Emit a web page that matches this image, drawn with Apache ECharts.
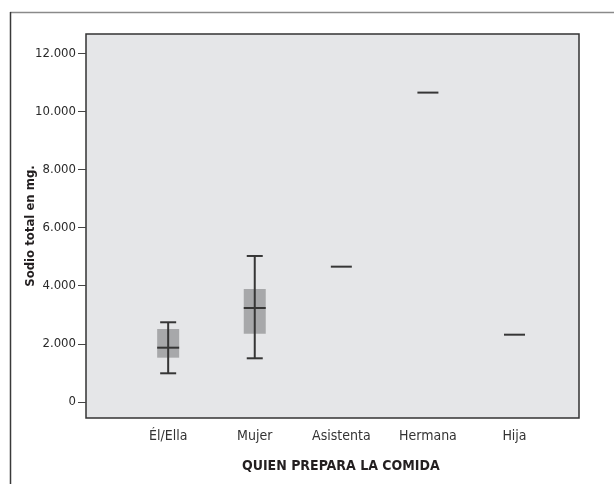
<!DOCTYPE html>
<html><head><meta charset="utf-8">
<script src="https://cdn.jsdelivr.net/npm/echarts@6/dist/echarts.min.js"></script>
<style>html,body{margin:0;padding:0;background:#fff}#c{width:614px;height:484px}</style>
</head><body><div id="c"></div>
<script>
const categories = ['Él/Ella', 'Mujer', 'Asistenta', 'Hermana', 'Hija'];
const whiskerLow = [988, 1504, null, null, null];
const q1 = [1525, 2350, null, null, null];
const median = [1869, 3235, 4656, 10644, 2316];
const q3 = [2512, 3889, null, null, null];
const whiskerHigh = [2743, 5024, null, null, null];
const yTicks = [0, 2000, 4000, 6000, 8000, 10000, 12000];

const FONT = '"DejaVu Sans Condensed", "DejaVu Sans", sans-serif';
const LINE = '#363636';
const fmt = v => String(v).replace(/\B(?=(\d{3})+(?!\d))/g, '.');

const data = categories.map((c, i) => [i, whiskerLow[i], q1[i], median[i], q3[i], whiskerHigh[i]]);

const chart = echarts.init(document.getElementById('c'), null, {renderer: 'canvas'});
chart.setOption({
  animation: false,
  backgroundColor: '#fff',
  textStyle: {fontFamily: FONT},
  title: {
    text: 'QUIEN PREPARA LA COMIDA',
    left: 242, top: 459, padding: 0,
    textStyle: {fontFamily: FONT, fontWeight: 'bold', fontSize: 14, color: '#231f20'}
  },
  graphic: [
    {type: 'line', shape: {x1: 10, y1: 12.5, x2: 614, y2: 12.5}, style: {stroke: '#8a8a8a', lineWidth: 1.5}},
    {type: 'line', shape: {x1: 10.5, y1: 12, x2: 10.5, y2: 484}, style: {stroke: '#3a3a3a', lineWidth: 1.5}}
  ],
  grid: {
    left: 86, right: 35, top: 34, bottom: 66,
    show: true, backgroundColor: '#e5e6e8', borderColor: '#333', borderWidth: 1.5
  },
  xAxis: {
    type: 'value', min: -0.949, max: 4.745,
    splitLine: {show: false}, axisLine: {show: false, onZero: false}, axisTick: {show: false},
    axisLabel: {
      customValues: [0, 1, 2, 3, 4],
      formatter: v => categories[Math.round(v)],
      fontFamily: FONT, fontSize: 14, color: '#333', margin: 11
    }
  },
  yAxis: {
    type: 'value', min: -550, max: 12660,
    name: 'Sodio total en mg.', nameLocation: 'middle', nameGap: 49, nameMoveOverlap: false,
    nameTextStyle: {fontFamily: FONT, fontWeight: 'bold', fontSize: 13, color: '#231f20'},
    splitLine: {show: false},
    axisLine: {show: false, onZero: false},
    axisTick: {show: true, customValues: yTicks, length: 8, lineStyle: {color: '#444', width: 1}},
    axisLabel: {
      customValues: yTicks, formatter: fmt,
      fontFamily: FONT, fontSize: 13, color: '#2a2a2a', margin: 10
    }
  },
  series: [{
    type: 'custom',
    data: data,
    encode: {x: 0, y: [1, 2, 3, 4, 5]},
    renderItem: function (params, api) {
      const x = api.value(0);
      const med = api.value(3);
      const children = [];
      const pm = api.coord([x, med]);
      const hasBox = data[params.dataIndex][2] !== null;
      if (hasBox) {
        const pLo = api.coord([x, api.value(1)]);
        const pQ1 = api.coord([x, api.value(2)]);
        const pQ3 = api.coord([x, api.value(4)]);
        const pHi = api.coord([x, api.value(5)]);
        const bw = 22, cw = 16;
        children.push({type: 'rect', shape: {x: pm[0] - bw / 2, y: pQ3[1], width: bw, height: pQ1[1] - pQ3[1]},
          style: {fill: '#a7a8aa'}});
        children.push({type: 'line', shape: {x1: pm[0], y1: pHi[1], x2: pm[0], y2: pLo[1]},
          style: {stroke: LINE, lineWidth: 2}});
        children.push({type: 'line', shape: {x1: pm[0] - cw / 2, y1: pHi[1], x2: pm[0] + cw / 2, y2: pHi[1]},
          style: {stroke: LINE, lineWidth: 2}});
        children.push({type: 'line', shape: {x1: pm[0] - cw / 2, y1: pLo[1], x2: pm[0] + cw / 2, y2: pLo[1]},
          style: {stroke: LINE, lineWidth: 2}});
        children.push({type: 'line', shape: {x1: pm[0] - bw / 2, y1: pm[1], x2: pm[0] + bw / 2, y2: pm[1]},
          style: {stroke: LINE, lineWidth: 2}});
      } else {
        children.push({type: 'line', shape: {x1: pm[0] - 10.5, y1: pm[1], x2: pm[0] + 10.5, y2: pm[1]},
          style: {stroke: LINE, lineWidth: 2}});
      }
      return {type: 'group', children: children};
    }
  }]
});
</script>
</body></html>
